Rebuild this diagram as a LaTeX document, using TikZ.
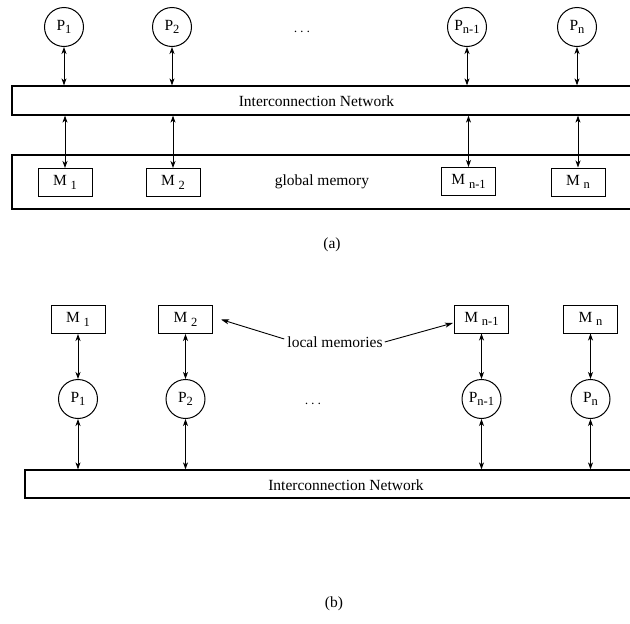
\documentclass[tikz,border=0pt]{standalone}
\usepackage{fontspec}
\setmainfont{Liberation Serif}
\usetikzlibrary{arrows.meta}
\newcommand{\subtxt}[1]{\raisebox{-0.5ex}{\fontsize{12.5}{13}\selectfont #1}}
\tikzset{
  base/.style={font=\fontsize{15.5}{18}\selectfont},
  proc/.style={base, draw, circle, minimum size=39pt, inner sep=0pt, line width=1pt},
  mbox/.style={base, draw, rectangle, minimum width=54pt, minimum height=28pt, inner sep=0pt, line width=1pt},
  bar/.style={draw, rectangle, inner sep=0pt, line width=1.2pt},
  lbl/.style={base, inner sep=0pt},
  link/.style={<->, line width=0.9pt, >={Stealth[length=7pt,width=5pt,inset=2pt]}},
  point/.style={->, line width=0.9pt, >={Stealth[length=8pt,width=5pt,inset=2pt]}},
}
\begin{document}
\begin{tikzpicture}[x=1pt,y=-1pt]
\useasboundingbox (0,0) rectangle (630,624);
\fill[white] (0,0) rectangle (630,624);

% ---------- (a) ----------
\node[proc] (aP1) at (64,27) {P\subtxt{1}};
\node[proc] (aP2) at (172,27) {P\subtxt{2}};
\node[proc] (aP3) at (467,27) {P\subtxt{n-1}};
\node[proc] (aP4) at (577,27) {P\subtxt{n}};
\node[lbl] (adots) at (302,32) {$\cdots$};

\node[bar, minimum width=630pt, minimum height=29pt] (anet) at (327,100.5) {};
\node[lbl] (anetl) at (316.5,101) {Interconnection Network};

\node[bar, minimum width=630pt, minimum height=54pt] (amem) at (327,182) {};
\node[lbl] (amemt) at (322,182) {global memory};

\node[mbox] (aM1) at (65,182.5) {M~\subtxt{1}};
\node[mbox] (aM2) at (173,182.5) {M~\subtxt{2}};
\node[mbox] (aM3) at (468.5,181.5) {M~\subtxt{n-1}};
\node[mbox] (aM4) at (578,182) {M~\subtxt{n}};

\foreach \i in {1,2,3,4}{
  \draw[link] (aP\i) -- (aP\i |- anet.north);
  \draw[link] (anet.south -| aM\i) -- (aM\i);
}
\node[lbl] (acap) at (332,245) {(a)};

% ---------- (b) ----------
\node[mbox] (bM1) at (78,319.5) {M~\subtxt{1}};
\node[mbox] (bM2) at (185.5,319.5) {M~\subtxt{2}};
\node[mbox] (bM3) at (481.5,319) {M~\subtxt{n-1}};
\node[mbox] (bM4) at (590.5,319) {M~\subtxt{n}};

\node[proc] (bP1) at (78,399) {P\subtxt{1}};
\node[proc] (bP2) at (185.5,399) {P\subtxt{2}};
\node[proc] (bP3) at (481.5,399) {P\subtxt{n-1}};
\node[proc] (bP4) at (590.5,399) {P\subtxt{n}};
\node[lbl] (bdots) at (313,404) {$\cdots$};

\node[bar, minimum width=620pt, minimum height=28pt] (bnet) at (335,484) {};
\node[lbl] (bnetl) at (346,485) {Interconnection Network};

\foreach \i in {1,2,3,4}{
  \draw[link] (bM\i) -- (bP\i);
  \draw[link] (bP\i) -- (bP\i |- bnet.north);
}

\node[lbl] (loc) at (335,342) {local memories};
\draw[point] ([xshift=-3pt,yshift=3pt]loc.west) -- ([xshift=8pt]bM2.east);
\draw[point] ([xshift=2pt]loc.east) -- ([xshift=-1pt,yshift=-4pt]bM3.west);

\node[lbl] (bcap) at (334,604) {(b)};
\end{tikzpicture}
\end{document}
